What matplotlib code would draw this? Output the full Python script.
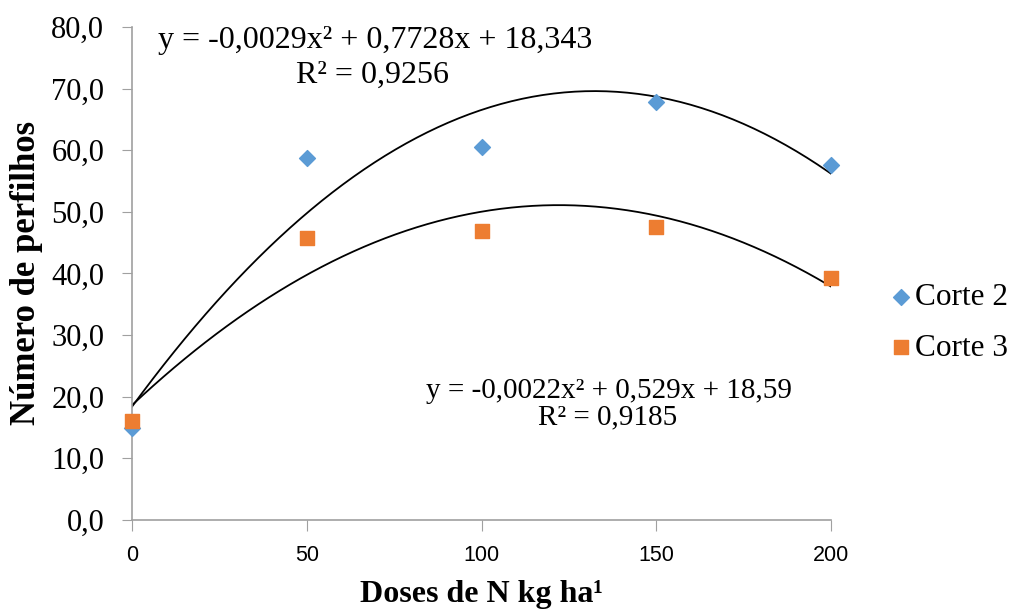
"""Número de perfilhos vs doses de N, with quadratic trendlines."""

import matplotlib
matplotlib.use("Agg")
import matplotlib.pyplot as plt
import numpy as np
from matplotlib.ticker import FuncFormatter

doses = [0, 50, 100, 150, 200]
corte2 = [14.9, 58.7, 60.5, 67.8, 57.6]
corte3 = [16.1, 45.8, 46.9, 47.5, 39.3]
eq2 = ["y = -0,0029x² + 0,7728x + 18,343", "R² = 0,9256"]
eq3 = ["y = -0,0022x² + 0,529x + 18,59", "R² = 0,9185"]

plt.rcParams["font.family"] = ["Liberation Serif", "DejaVu Serif"]

fig = plt.figure(figsize=(10.15, 6.13), dpi=100)
ax = fig.add_axes([0.130, 0.152, 0.689, 0.804])

# quadratic trendlines, fitted like the spreadsheet does
xs = np.linspace(0, 200, 200)
for ys in (corte2, corte3):
    coef = np.polyfit(doses, ys, 2)
    ax.plot(xs, np.polyval(coef, xs), color="black", lw=1.3, zorder=2)

ax.scatter(doses, corte2, marker="D", s=65, color="#5B9BD5", label="Corte 2",
           zorder=3, clip_on=False)
ax.scatter(doses, corte3, marker="s", s=115, color="#ED7D31", label="Corte 3",
           zorder=3, clip_on=False)

ax.set_xlim(0, 200)
ax.set_ylim(0, 80)
ax.set_xticks([0, 50, 100, 150, 200])
ax.set_yticks(np.arange(0, 81, 10))
ax.yaxis.set_major_formatter(FuncFormatter(lambda v, p: f"{v:.1f}".replace(".", ",")))
ax.tick_params(axis="y", labelsize=22, length=7, color="#a0a0a0", pad=13)
ax.tick_params(axis="x", labelsize=15.5, length=8, color="#a0a0a0", pad=10)
for lab in ax.get_xticklabels():
    lab.set_family(["Liberation Sans", "DejaVu Sans"])
for side in ("top", "right"):
    ax.spines[side].set_visible(False)
for side in ("left", "bottom"):
    ax.spines[side].set_color("#a0a0a0")
    ax.spines[side].set_linewidth(1.2)

ax.set_xlabel("Doses de N kg ha¹", fontsize=23, fontweight="bold", labelpad=10)
ax.set_ylabel("Número de perfilhos", fontsize=25, fontweight="bold", labelpad=6)

ax.text(0.348, 0.957, eq2[0], transform=ax.transAxes, fontsize=23, ha="center", va="baseline")
ax.text(0.344, 0.886, eq2[1], transform=ax.transAxes, fontsize=23, ha="center", va="baseline")
ax.text(0.682, 0.2475, eq3[0], transform=ax.transAxes, fontsize=21, ha="center", va="baseline")
ax.text(0.680, 0.193, eq3[1], transform=ax.transAxes, fontsize=21, ha="center", va="baseline")

ax.legend(loc="center left", bbox_to_anchor=(1.08, 0.40), frameon=False,
          fontsize=22.5, handletextpad=0.0, handlelength=0.9, labelspacing=0.7,
          borderaxespad=0, borderpad=0)

fig.savefig("out.png", dpi=100)
